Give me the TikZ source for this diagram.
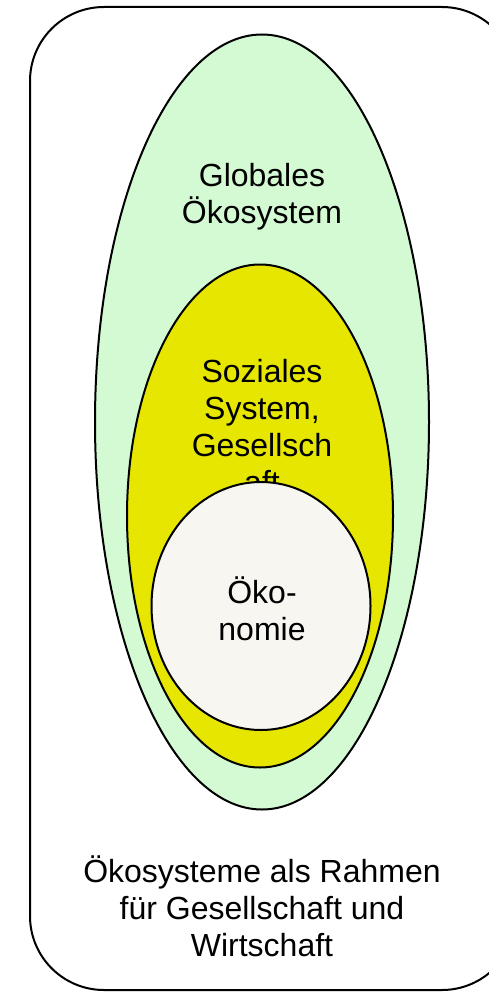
\documentclass[tikz,border=0pt]{standalone}
\usepackage{fontspec}
\setmainfont{Liberation Sans}
\usetikzlibrary{shapes.geometric}

\definecolor{oekogreen}{HTML}{D4FAD4}
\definecolor{sozyellow}{HTML}{E6E600}
\definecolor{wirtwhite}{HTML}{F8F6F0}

\begin{document}
\begin{tikzpicture}[x=1pt, y=-1pt, line width=2pt,
    sphere/.style={ellipse, draw, inner sep=0pt},
    label/.style={align=center, font=\fontsize{32}{37}\selectfont}]
  \useasboundingbox (0,0) rectangle (488,995);

  \node (frame) [draw, rounded corners=74pt, minimum width=486pt,
    minimum height=983pt] at (273,498.5) {};

  \node (global) [sphere, fill=oekogreen, minimum width=334pt,
    minimum height=775pt] at (262,422) {};
  \node (globaltext) [label] at (262,197) {Globales\\Ökosystem};

  \node (social) [sphere, fill=sozyellow, minimum width=266pt,
    minimum height=503pt] at (260,516) {};
  \node (socialtext) [label] at (262,427) {Soziales\\System,\\Gesellsch\\aft};

  \node (economy) [sphere, fill=wirtwhite, minimum width=219pt,
    minimum height=248pt] at (261,606) {};
  \node (economytext) [label] at (262,609) {Öko-\\nomie};

  \node (frametext) [label] at (262,906) {Ökosysteme als Rahmen\\für Gesellschaft und\\Wirtschaft};
\end{tikzpicture}
\end{document}
